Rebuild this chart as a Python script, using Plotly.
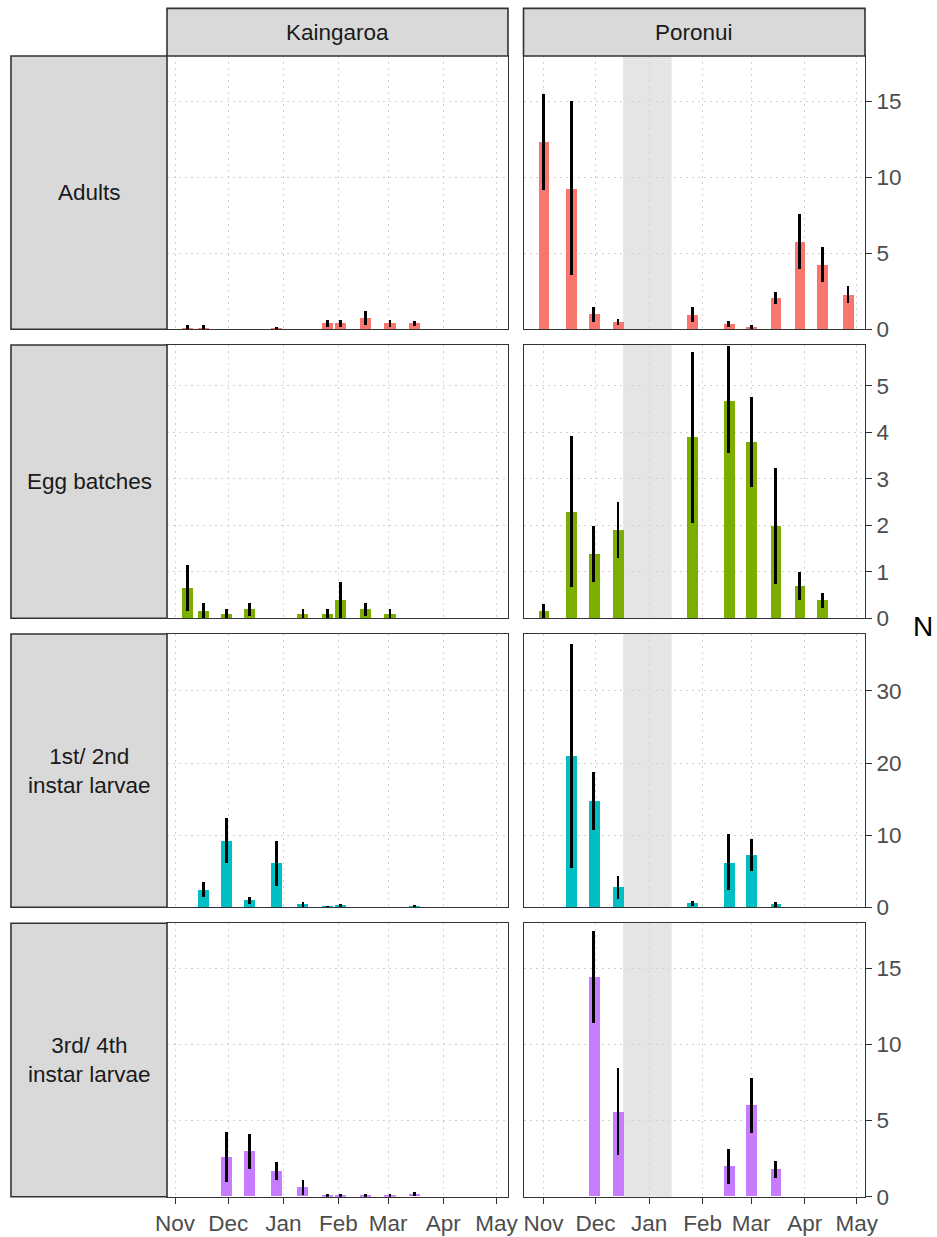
import plotly.graph_objects as go

# ---------------- data ----------------
sites = ["Kaingaroa", "Poronui"]
stages = ["Adults", "Egg batches", "1st/ 2nd<br>instar larvae", "3rd/ 4th<br>instar larvae"]
stage_colors = ["#F8766D", "#7CAE00", "#00BFC4", "#C77CFF"]

month_ticks = ["2014-11-01", "2014-12-01", "2015-01-01", "2015-02-01",
               "2015-03-01", "2015-04-01", "2015-05-01"]
month_labels = ["Nov", "Dec", "Jan", "Feb", "Mar", "Apr", "May"]

# sampling dates
kaingaroa_dates = ["2014-11-08", "2014-11-17", "2014-11-30", "2014-12-13", "2014-12-28",
                   "2015-01-12", "2015-01-26", "2015-02-02", "2015-02-16", "2015-03-02",
                   "2015-03-16"]
poronui_dates = ["2014-11-01", "2014-11-17", "2014-11-30", "2014-12-14", "2015-01-26",
                 "2015-02-16", "2015-03-01", "2015-03-15", "2015-03-29", "2015-04-11",
                 "2015-04-26"]

# Kaingaroa
k_adults = [0.10, 0.10, 0, 0, 0.05, 0, 0.39, 0.41, 0.76, 0.41, 0.41]
k_adults_hi = [0.30, 0.30, 0, 0, 0.15, 0, 0.59, 0.59, 1.22, 0.59, 0.55]
k_adults_lo = [0.00, 0.00, 0, 0, 0.00, 0, 0.17, 0.15, 0.30, 0.15, 0.24]

k_eggs = [0.66, 0.16, 0.09, 0.19, 0, 0.09, 0.09, 0.39, 0.19, 0.09, 0]
k_eggs_hi = [1.15, 0.32, 0.19, 0.32, 0, 0.19, 0.19, 0.78, 0.32, 0.19, 0]
k_eggs_lo = [0.16, 0.01, 0.00, 0.06, 0, 0.00, 0.00, 0.00, 0.06, 0.00, 0]

k_l12 = [0, 2.40, 9.24, 1.00, 6.15, 0.46, 0.15, 0.28, 0, 0, 0.20]
k_l12_hi = [0, 3.45, 12.35, 1.39, 9.24, 0.78, 0.25, 0.40, 0, 0, 0.35]
k_l12_lo = [0, 1.37, 6.10, 0.46, 3.00, 0.10, 0.05, 0.10, 0, 0, 0.05]

k_l34 = [0, 0, 2.59, 3.00, 1.69, 0.62, 0.05, 0.05, 0.05, 0.05, 0.18]
k_l34_hi = [0, 0, 4.23, 4.14, 2.26, 1.08, 0.15, 0.15, 0.15, 0.15, 0.31]
k_l34_lo = [0, 0, 0.95, 1.82, 1.10, 0.11, 0.00, 0.00, 0.00, 0.00, 0.05]

# Poronui
p_adults = [12.33, 9.26, 0.98, 0.46, 0.94, 0.37, 0.15, 2.04, 5.76, 4.22, 2.25]
p_adults_hi = [15.50, 15.02, 1.45, 0.66, 1.45, 0.57, 0.26, 2.47, 7.56, 5.43, 2.85]
p_adults_lo = [9.15, 3.57, 0.50, 0.28, 0.50, 0.17, 0.05, 1.66, 3.96, 3.09, 1.71]

p_eggs = [0.16, 2.28, 1.39, 1.89, 3.89, 4.68, 3.79, 1.99, 0.69, 0.39, 0]
p_eggs_hi = [0.31, 3.92, 1.99, 2.50, 5.74, 5.86, 4.76, 3.24, 0.99, 0.55, 0]
p_eggs_lo = [0.00, 0.68, 0.79, 1.29, 2.04, 3.55, 2.83, 0.74, 0.39, 0.23, 0]

p_l12 = [0, 21.0, 14.7, 2.8, 0.55, 6.2, 7.25, 0.45, 0, 0, 0]
p_l12_hi = [0, 36.5, 18.7, 4.4, 0.87, 10.1, 9.5, 0.78, 0, 0, 0]
p_l12_lo = [0, 5.4, 10.7, 1.1, 0.20, 2.4, 5.0, 0.10, 0, 0, 0]

p_l34 = [0, 0, 14.41, 5.54, 0, 1.97, 5.98, 1.77, 0, 0, 0]
p_l34_hi = [0, 0, 17.48, 8.48, 0, 3.11, 7.78, 2.37, 0, 0, 0]
p_l34_lo = [0, 0, 11.39, 2.74, 0, 0.83, 4.20, 1.21, 0, 0, 0]

# y-axis upper limits per stage and tick steps
y_limits = [17.98, 5.88, 37.9, 17.96]
y_steps = [5, 1, 10, 5]

# x-axis limits per site
x_limits = [["2014-10-27 12:00", "2015-05-07 10:00"],
            ["2014-10-20 10:00", "2015-05-05 19:00"]]

# shaded (unsampled) period at Poronui
shade_period = ["2014-12-17", "2015-01-14"]

site_dates = [kaingaroa_dates, poronui_dates]
series = [
    [(k_adults, k_adults_lo, k_adults_hi), (p_adults, p_adults_lo, p_adults_hi)],
    [(k_eggs, k_eggs_lo, k_eggs_hi), (p_eggs, p_eggs_lo, p_eggs_hi)],
    [(k_l12, k_l12_lo, k_l12_hi), (p_l12, p_l12_lo, p_l12_hi)],
    [(k_l34, k_l34_lo, k_l34_hi), (p_l34, p_l34_lo, p_l34_hi)],
]

# ---------------- layout geometry (pixels) ----------------
W, H = 937, 1237
col_px = [(167, 508), (523.5, 865)]
row_px = [(56, 329.3), (345, 618.3), (634, 907.3), (923.3, 1196.7)]
strip_top = 8.4
strip_left = 11

FONT = "Liberation Sans, Arial, sans-serif"
TXT = 22.5
BAR_WIDTH_MS = 6.2 * 86400000

def fx(px):
    return px / W

def fy(py):
    return 1 - py / H

fig = go.Figure()
layout = dict(
    width=W, height=H, margin=dict(l=0, r=0, t=0, b=0, pad=0, autoexpand=False),
    paper_bgcolor="white", plot_bgcolor="white", showlegend=False,
    font=dict(family=FONT, size=TXT, color="#4D4D4D"),
    bargap=0,
)
shapes = []
annotations = []

for r in range(4):
    for c in range(2):
        i = r * 2 + c + 1
        xa = "x" if i == 1 else f"x{i}"
        ya = "y" if i == 1 else f"y{i}"
        vals, lo, hi = series[r][c]
        up = [h - v for h, v in zip(hi, vals)]
        dn = [v - l for v, l in zip(vals, lo)]
        fig.add_trace(go.Bar(
            x=site_dates[c], y=vals, width=[BAR_WIDTH_MS] * len(vals),
            marker=dict(color=stage_colors[r], line=dict(width=0)),
            error_y=dict(type="data", symmetric=False, array=up, arrayminus=dn,
                         color="black", thickness=2.8, width=0),
            xaxis=xa, yaxis=ya, hoverinfo="skip",
        ))
        bottom = (r == 3)
        layout["xaxis" if i == 1 else f"xaxis{i}"] = dict(
            type="date", domain=[fx(col_px[c][0]), fx(col_px[c][1])],
            anchor=ya, range=x_limits[c], automargin=False,
            tickvals=month_ticks, ticktext=month_labels,
            showticklabels=bottom, ticks="outside" if bottom else "",
            ticklen=6, tickwidth=1.2, tickcolor="#333333",
            tickfont=dict(size=TXT, color="#4D4D4D", family=FONT),
            showgrid=True, gridcolor="#D2D2D2", gridwidth=1, griddash="2px,4px",
            showline=True, mirror=True, linecolor="#333333", linewidth=1.2,
            zeroline=False, fixedrange=True,
        )
        right = (c == 1)
        layout["yaxis" if i == 1 else f"yaxis{i}"] = dict(
            domain=[fy(row_px[r][1]), fy(row_px[r][0])],
            anchor=xa, range=[0, y_limits[r]], dtick=y_steps[r], tick0=0,
            automargin=False,
            side="right", showticklabels=right, ticks="outside" if right else "",
            ticklen=6, tickwidth=1.2, tickcolor="#333333",
            tickfont=dict(size=TXT, color="#4D4D4D", family=FONT),
            showgrid=True, gridcolor="#D2D2D2", gridwidth=1, griddash="2px,4px",
            showline=True, mirror=True, linecolor="#333333", linewidth=1.2,
            zeroline=False, fixedrange=True,
        )
        if c == 1:
            shapes.append(dict(
                type="rect", xref=xa, yref=f"{ya} domain",
                x0=shade_period[0], x1=shade_period[1], y0=0, y1=1,
                fillcolor="#E5E5E5", line=dict(width=0), layer="below",
            ))

# top strips (sites)
for c in range(2):
    shapes.append(dict(
        type="rect", xref="paper", yref="paper",
        x0=fx(col_px[c][0]), x1=fx(col_px[c][1]), y0=fy(row_px[0][0]), y1=fy(strip_top),
        fillcolor="#D9D9D9", line=dict(color="#333333", width=1.6), layer="above",
    ))
    annotations.append(dict(
        xref="paper", yref="paper", x=fx((col_px[c][0] + col_px[c][1]) / 2),
        y=fy((strip_top + row_px[0][0]) / 2), text=sites[c], showarrow=False,
        font=dict(size=TXT, color="#1A1A1A", family=FONT), xanchor="center", yanchor="middle",
    ))

# left strips (stages)
for r in range(4):
    shapes.append(dict(
        type="rect", xref="paper", yref="paper",
        x0=fx(strip_left), x1=fx(col_px[0][0]), y0=fy(row_px[r][1]), y1=fy(row_px[r][0]),
        fillcolor="#D9D9D9", line=dict(color="#333333", width=1.6), layer="above",
    ))
    annotations.append(dict(
        xref="paper", yref="paper", x=fx((strip_left + col_px[0][0]) / 2),
        y=fy((row_px[r][0] + row_px[r][1]) / 2), text=stages[r], showarrow=False,
        font=dict(size=TXT, color="#1A1A1A", family=FONT), xanchor="center", yanchor="middle",
        align="center",
    ))

# y-axis title
annotations.append(dict(
    xref="paper", yref="paper", x=fx(923), y=fy((row_px[0][0] + row_px[3][1]) / 2),
    text="N", showarrow=False, font=dict(size=28, color="black", family=FONT),
    xanchor="center", yanchor="middle",
))

layout["shapes"] = shapes
layout["annotations"] = annotations
fig.update_layout(**layout)
fig.write_html("out.html")
